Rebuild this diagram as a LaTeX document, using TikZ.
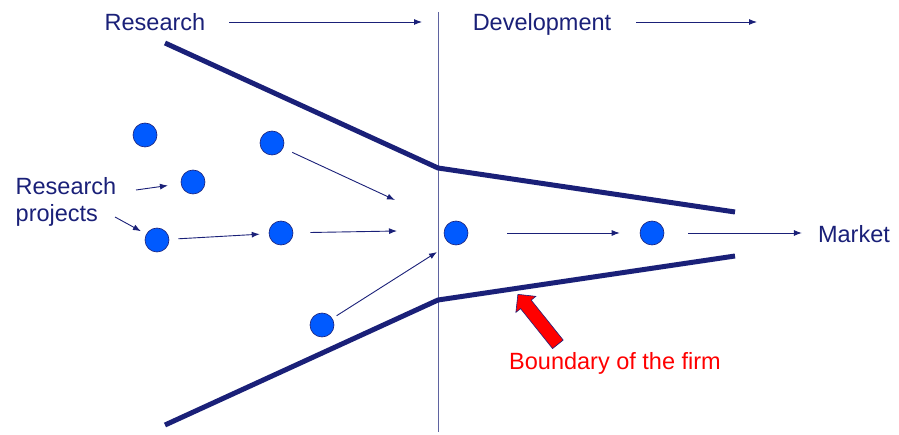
\documentclass[tikz,border=0pt]{standalone}
\usepackage{fontspec}
\setmainfont{Liberation Sans}
\usetikzlibrary{arrows.meta,shapes.arrows}
\definecolor{navy}{RGB}{26,32,120}
\definecolor{dotblue}{RGB}{0,90,255}
\tikzset{
    dot/.style ={
        shape=circle,
        draw=navy,
        fill=dotblue,
        line width=0.6pt,
        inner sep=0pt,
        minimum size=24pt
    },
    txt/.style ={
        text=navy,
        font=\fontsize{23.5}{27}\selectfont,
        inner sep=2pt
    },
    flow/.style ={
        draw=navy,
        line width=0.9pt,
        -{Latex[length=8pt,width=6pt]}
    },
    wall/.style ={
        draw=navy,
        line width=5pt,
        line join=round
    }
}
\begin{document}
\begin{tikzpicture}[x=1pt,y=-1pt]
    \useasboundingbox (0,0) rectangle (899,435);
    % headings
    \node[txt] (res) at(155,22) {Research};
    \node[txt] (dev) at(542,24) {Development};
    \coordinate (resend) at(422,22);
    \coordinate (devend) at(757,22);
    \draw[flow,shorten <=22pt] (res.east) -- (resend);
    \draw[flow,shorten <=23pt] (dev.east |- devend) -- (devend);
    % boundary of research and development
    \coordinate (top) at(438,12);
    \coordinate (bot) at(438,432);
    \draw[draw=navy!70,line width=1pt] (top) -- (bot);
    % funnel
    \draw[wall] (165,43) -- (438,168) -- (735,212);
    \draw[wall] (165,425) -- (438,300) -- (735,256);
    % projects
    \node[dot] (p1) at(145,135) {};
    \node[dot] (p2) at(193,182) {};
    \node[dot] (p3) at(157,240) {};
    \node[dot] (p4) at(272,143) {};
    \node[dot] (p5) at(281,233) {};
    \node[dot] (p6) at(322,325) {};
    \node[dot] (p7) at(456,233) {};
    \node[dot] (p8) at(652,233) {};
    \node[txt,align=left] (proj) at(66,202) {Research\\projects};
    \node[txt] (mkt) at(854,234) {Market};
    \coordinate (in1) at(395,200);
    \coordinate (in2) at(397,231);
    \coordinate (in3) at(437,252);
    \coordinate (lab1) at(136,190);
    \coordinate (lab2) at(115,217);
    \draw[flow,shorten <=10pt] (p4) -- (in1);
    \draw[flow,shorten <=17pt] (p5) -- (in2);
    \draw[flow,shorten <=5pt] (p6) -- (in3);
    \draw[flow,shorten <=9pt,shorten >=9pt] (p3) -- (p5);
    \draw[flow,shorten <=39pt,shorten >=20pt] (p7) -- (p8);
    \draw[flow,shorten <=24pt,shorten >=14pt] (p8) -- (mkt.west |- p8);
    \draw[flow,shorten >=13pt] (lab1) -- (p2);
    \draw[flow,shorten >=6pt] (lab2) -- (p3);
    % firm boundary
    \node[single arrow,draw=navy,fill=red,line width=0.6pt,inner sep=6.5pt,
        minimum height=64pt,single arrow head extend=6pt,
        single arrow head indent=0pt,rotate=128.7]
        (firm) at(540,322) {};
    \node[txt,text=red] (firmtxt) at(615,363) {Boundary of the firm};
\end{tikzpicture}
\end{document}
